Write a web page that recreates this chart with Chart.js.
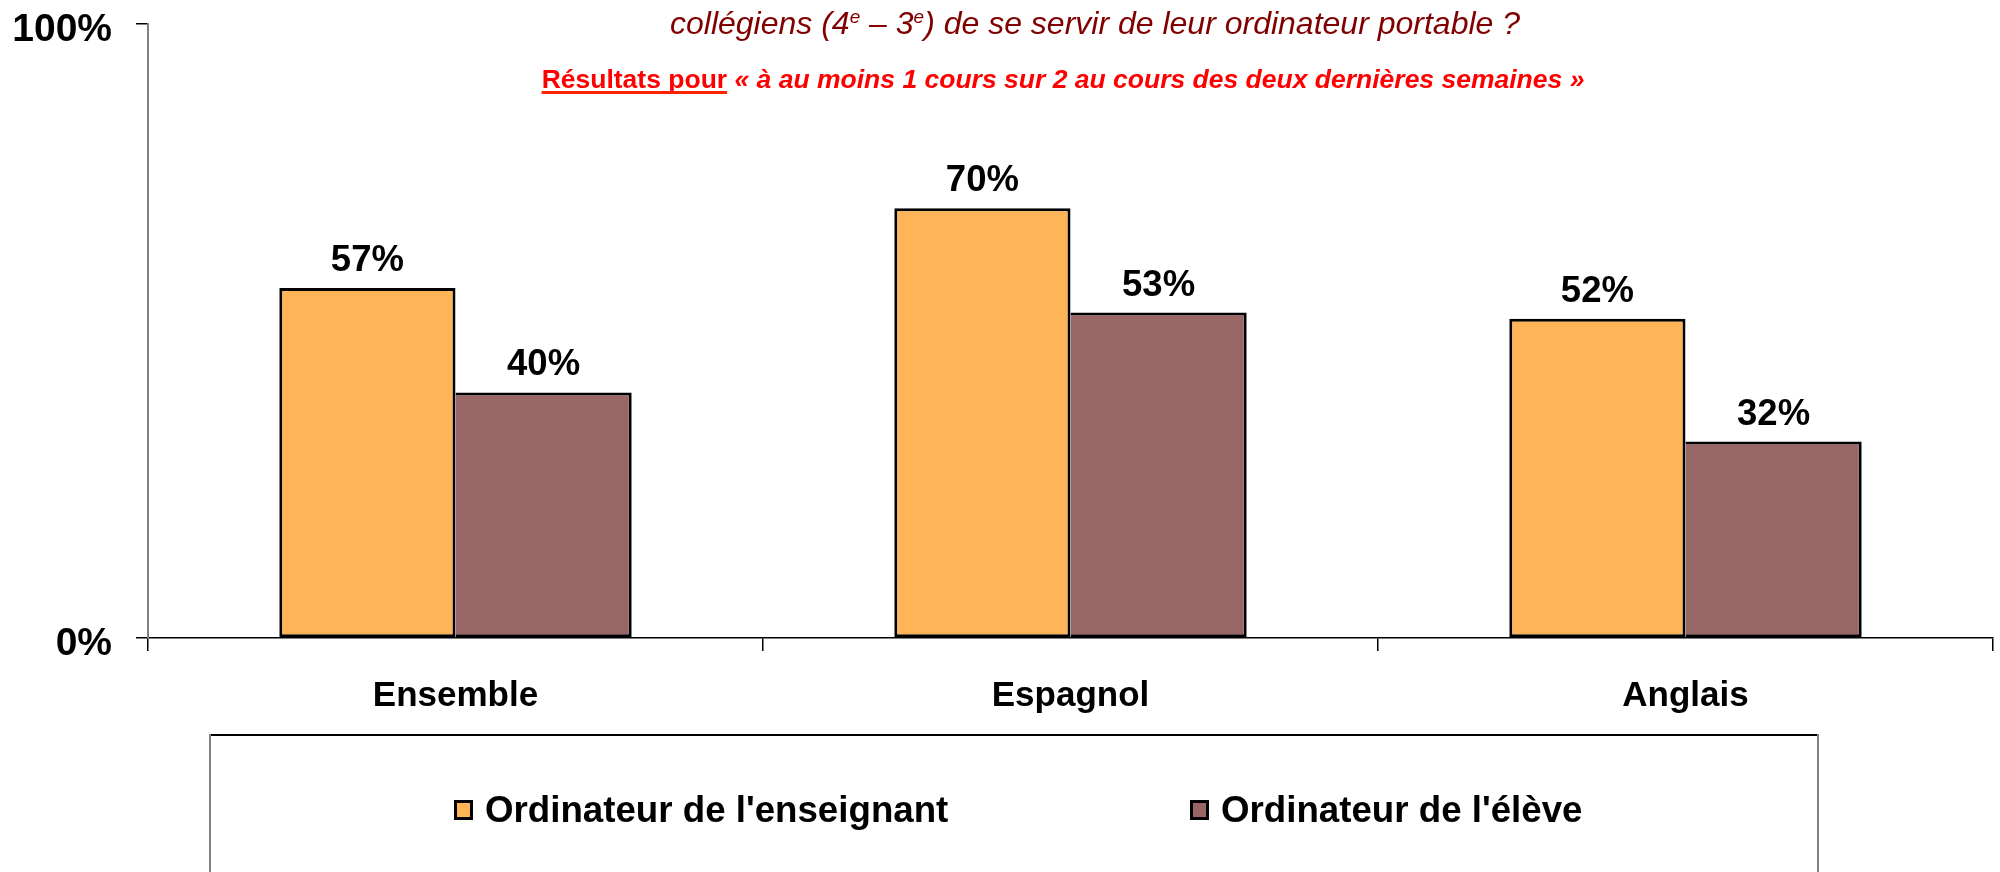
<!DOCTYPE html>
<html>
<head>
<meta charset="utf-8">
<script src="https://cdn.jsdelivr.net/npm/chart.js@4/dist/chart.umd.min.js"></script>
<style>
  html, body { margin: 0; padding: 0; background: #fff; overflow: hidden; }
</style>
</head>
<body>
<canvas id="chart" width="2000" height="872"></canvas>
<script>
// ── données ──────────────────────────────────────────────────────────────
const CATEGORIES   = ['Ensemble', 'Espagnol', 'Anglais'];
const SERIES_NAMES = ["Ordinateur de l'enseignant", "Ordinateur de l'élève"];
const ENSEIGNANT   = [57, 70, 52];
const ELEVE        = [40, 53, 32];
const Y_TICKS      = [0, 100];

const COLORS = {
  enseignant: '#FFB457',
  eleve:      '#996666',
  border:     '#000000',
  axis:       '#808080',
  title:      '#800000',
  subtitle:   '#FF0000',
};

const FONT = '"Liberation Sans", Arial, Helvetica, sans-serif';

// ── texte en plusieurs morceaux (exposants, styles mixtes) ────────────────
function drawRuns(ctx, runs, cx, baseline) {
  let total = 0;
  for (const r of runs) { ctx.font = r.font; total += ctx.measureText(r.text).width; }
  let x = cx - total / 2;
  ctx.textAlign = 'left';
  ctx.textBaseline = 'alphabetic';
  for (const r of runs) {
    ctx.font = r.font;
    ctx.fillStyle = r.color;
    const w = ctx.measureText(r.text).width;
    ctx.fillText(r.text, x, baseline - (r.rise || 0));
    if (r.underline) {
      ctx.fillStyle = '#FF2200';
      ctx.fillRect(x, baseline + 3, w, 3);
    }
    x += w;
  }
}

const titlePlugin = {
  id: 'titres',
  afterDraw(chart) {
    const ctx = chart.ctx;
    ctx.save();
    const it = `italic 32px ${FONT}`;
    const sup = `italic 19px ${FONT}`;
    drawRuns(ctx, [
      { text: 'collégiens (4', font: it, color: COLORS.title },
      { text: 'e', font: sup, color: COLORS.title, rise: 11 },
      { text: ' – 3', font: it, color: COLORS.title },
      { text: 'e', font: sup, color: COLORS.title, rise: 11 },
      { text: ') de se servir de leur ordinateur portable ?', font: it, color: COLORS.title },
    ], 1095, 34);

    drawRuns(ctx, [
      { text: 'Résultats pour', font: `bold 26.5px ${FONT}`, color: COLORS.subtitle, underline: true },
      { text: ' « à au moins 1 cours sur 2 au cours des deux dernières semaines »', font: `italic bold 26.5px ${FONT}`, color: COLORS.subtitle },
    ], 1063, 88);
    ctx.restore();
  },
};

const labelPlugin = {
  id: 'etiquettes',
  afterDatasetsDraw(chart) {
    const ctx = chart.ctx;
    ctx.save();
    ctx.font = `bold 36.5px ${FONT}`;
    ctx.fillStyle = '#000';
    ctx.textAlign = 'center';
    ctx.textBaseline = 'alphabetic';
    chart.data.datasets.forEach((ds, i) => {
      chart.getDatasetMeta(i).data.forEach((bar, j) => {
        ctx.fillText(ds.data[j] + '%', bar.x, bar.y - 17);
      });
    });
    ctx.restore();
  },
};

const legendPlugin = {
  id: 'legende',
  afterDraw(chart) {
    const ctx = chart.ctx;
    ctx.save();
    // cadre
    ctx.fillStyle = '#000';
    ctx.fillRect(210, 734, 1608, 2);
    ctx.fillStyle = COLORS.axis;
    ctx.fillRect(209, 734, 2, 140);
    ctx.fillRect(1817, 734, 2, 140);

    const items = [{ sx: 454, tx: 485 }, { sx: 1190, tx: 1221 }];
    ctx.font = `bold 36.7px ${FONT}`;
    ctx.textAlign = 'left';
    ctx.textBaseline = 'middle';
    chart.data.datasets.forEach((ds, i) => {
      const p = items[i];
      ctx.fillStyle = ds.backgroundColor;
      ctx.fillRect(p.sx, 800, 19, 20);
      ctx.strokeStyle = '#000';
      ctx.lineWidth = 3;
      ctx.strokeRect(p.sx + 1.5, 801.5, 16, 17);
      ctx.fillStyle = '#000';
      ctx.fillText(ds.label, p.tx, 812);
    });
    ctx.restore();
  },
};

new Chart(document.getElementById('chart'), {
  type: 'bar',
  data: {
    labels: CATEGORIES,
    datasets: [
      {
        label: SERIES_NAMES[0],
        data: ENSEIGNANT,
        backgroundColor: COLORS.enseignant,
        borderColor: COLORS.border,
        borderWidth: 3,
        borderSkipped: false,
        categoryPercentage: 0.573,
        barPercentage: 1,
      },
      {
        label: SERIES_NAMES[1],
        data: ELEVE,
        backgroundColor: COLORS.eleve,
        borderColor: COLORS.border,
        borderWidth: { top: 3, right: 3, bottom: 3, left: 0 },
        borderSkipped: false,
        categoryPercentage: 0.573,
        barPercentage: 1,
      },
    ],
  },
  options: {
    responsive: false,
    animation: false,
    layout: { padding: { top: 24, right: 7, left: 0, bottom: 0 } },
    plugins: {
      legend: { display: false },
      tooltip: { enabled: false },
    },
    scales: {
      x: {
        afterFit: s => { s.height = 234; s.paddingLeft = 0; s.paddingRight = 0; },
        grid: {
          offset: true,
          drawOnChartArea: false,
          drawTicks: true,
          tickLength: 13,
          color: '#000',
          lineWidth: 1.5,
        },
        border: { display: true, color: '#000', width: 1.5 },
        ticks: {
          color: '#000',
          font: { family: FONT, size: 35, weight: 'bold' },
          padding: 24,
        },
      },
      y: {
        min: 0,
        max: 100,
        afterFit: s => { s.width = 148; s.paddingTop = 0; s.paddingBottom = 0; },
        afterBuildTicks: s => { s.ticks = Y_TICKS.map(v => ({ value: v })); },
        grid: {
          drawOnChartArea: false,
          drawTicks: true,
          tickLength: 12,
          color: '#000',
          lineWidth: 1.5,
        },
        border: { display: true, color: COLORS.axis, width: 2 },
        ticks: {
          color: '#000',
          font: { family: FONT, size: 39, weight: 'bold' },
          padding: 24,
          labelOffset: 6,
          callback: v => v + '%',
        },
      },
    },
  },
  plugins: [titlePlugin, labelPlugin, legendPlugin],
});
</script>
</body>
</html>
